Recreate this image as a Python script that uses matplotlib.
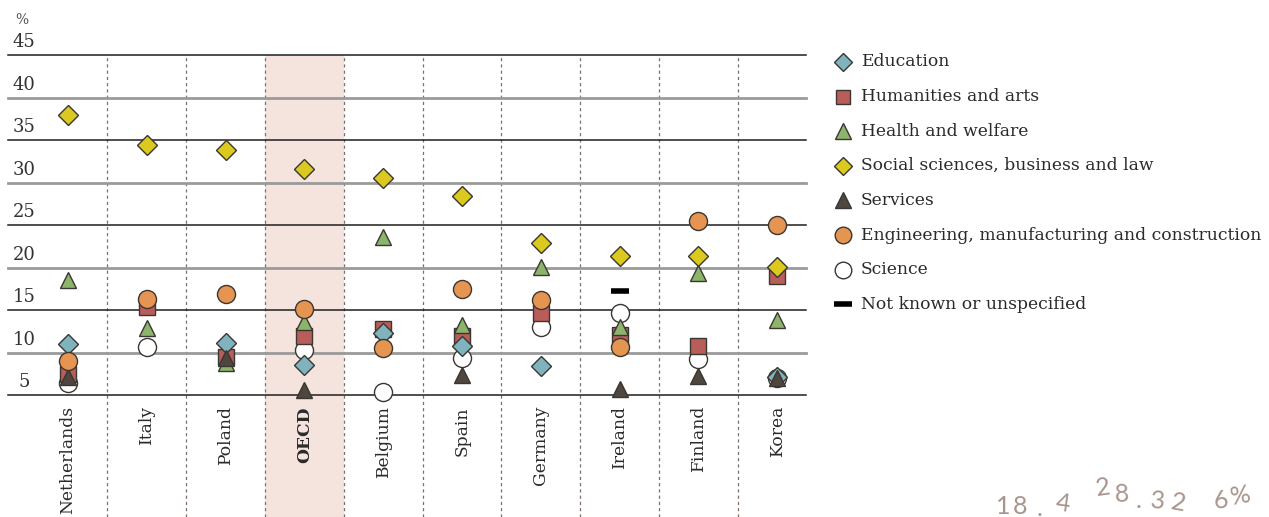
"""
Graduates by field of education, selected countries.
Dot chart with one column per country, shaded OECD column.
"""
import numpy as np
import matplotlib
matplotlib.use('Agg')
import matplotlib.pyplot as plt
from matplotlib.lines import Line2D

nan = np.nan

countries = ['Netherlands', 'Italy', 'Poland', 'OECD', 'Belgium',
             'Spain', 'Germany', 'Ireland', 'Finland', 'Korea']

education = [11.0, nan, 11.1, 8.5, 12.3, 10.8, 8.4, nan, nan, 7.1]
humanities = [7.5, 15.4, 9.5, 11.9, 12.8, 11.9, 14.7, 12.1, 10.8, 19.0]
health = [18.5, 12.9, 8.8, 13.6, 23.6, 13.2, 20.1, 13.0, 19.4, 13.8]
social = [37.9, 34.4, 33.8, 31.6, 30.5, 28.4, 22.9, 21.4, 21.4, 20.1]
services = [7.1, nan, 9.4, 5.6, nan, 7.4, nan, 5.7, 7.2, 7.0]
engineering = [9.0, 16.3, 16.9, 15.1, 10.5, 17.5, 16.2, 10.6, 25.5, 25.0]
science = [6.4, 10.6, nan, 10.3, 5.4, 9.4, 13.0, 14.6, 9.2, 7.0]
unknown = [nan, nan, nan, nan, nan, nan, nan, 17.2, nan, nan]

yticks = [5, 10, 15, 20, 25, 30, 35, 40, 45]

EDGE = '#3a3632'
FONT = 'DejaVu Serif'
TXT = '#2a2a2a'

# (label, values, marker, size, face colour, zorder)
series = [
    ('Education', education, 'D', 10, '#7fb4bf', 5),
    ('Humanities and arts', humanities, 's', 11.5, '#b95d5b', 3),
    ('Health and welfare', health, '^', 12, '#8db46b', 4),
    ('Social sciences, business and law', social, 'D', 10, '#dbc920', 8),
    ('Services', services, '^', 12, '#4e463f', 6),
    ('Engineering, manufacturing and construction', engineering, 'o', 13, '#e59452', 7),
    ('Science', science, 'o', 13, '#ffffff', 2),
]

W, H = 1269, 517
fig = plt.figure(figsize=(W / 100, H / 100), dpi=100)
ax = fig.add_axes([8 / W, (H - 395) / H, (806 - 8) / W, (395 - 55) / H])

x = np.arange(len(countries))
ax.set_xlim(-0.761, 9.365)
ax.set_ylim(5, 45)

# shaded OECD column and dashed column separators running down past the labels
ax.axvspan(2.5, 3.5, ymin=-0.36, ymax=1, color='#f4e4dd', lw=0, clip_on=False, zorder=0)
for b in np.arange(0.5, len(countries) - 1, 1):
    ax.axvline(b, ymin=-0.36, ymax=1, color='#7a706a', lw=0.9,
               dashes=(2.5, 2.5), clip_on=False, zorder=1)

# horizontal grid: alternating dark and grey rules
for v in yticks:
    if v % 10 == 5:
        ax.axhline(v, color='#1e1e1e', lw=1.1, zorder=1, clip_on=False)
    else:
        ax.axhline(v, color='#9a9a9a', lw=2.0, zorder=1, clip_on=False)
    ax.text(0.02, v + 0.45, str(v), transform=ax.get_yaxis_transform(),
            ha='center', va='bottom', fontsize=13, family=FONT, color='#333333')

ax.text(0.017, 1.102, '%', transform=ax.transAxes, ha='center', va='center',
        fontsize=10, family=FONT, color='#555555')

for label, vals, mk, ms, fc, z in series:
    ax.plot(x, vals, linestyle='none', marker=mk, markersize=ms,
            markerfacecolor=fc, markeredgecolor=EDGE, markeredgewidth=1.0,
            zorder=z, clip_on=False)
ax.plot(x, unknown, linestyle='none', marker='_', markersize=13,
        markeredgewidth=4, color='black', zorder=9, clip_on=False)

ax.set_xticks(x)
ax.set_xticklabels(countries, rotation=90, fontsize=12.3, family=FONT, color=TXT)
for t in ax.get_xticklabels():
    if t.get_text() == 'OECD':
        t.set_fontweight('bold')
ax.tick_params(axis='x', length=0, pad=8)
ax.set_yticks([])
for s in ax.spines.values():
    s.set_visible(False)

# legend drawn by hand in figure pixels
leg_y0, leg_dy = 62, 34.6
for i, (label, vals, mk, ms, fc, z) in enumerate(series):
    py = leg_y0 + i * leg_dy
    fig.add_artist(Line2D([843 / W], [1 - py / H], marker=mk, markersize=ms * 0.92,
                          markerfacecolor=fc, markeredgecolor=EDGE,
                          markeredgewidth=1.0, linestyle='none'))
    fig.text(861 / W, 1 - py / H, label, ha='left', va='center',
             fontsize=12.3, family=FONT, color=TXT)
py = leg_y0 + 7 * leg_dy
fig.add_artist(Line2D([843 / W], [1 - py / H], marker='_', markersize=13,
                      markeredgewidth=4, color='black', linestyle='none'))
fig.text(861 / W, 1 - py / H, 'Not known or unspecified', ha='left', va='center',
         fontsize=12.3, family=FONT, color=TXT)

# faint decorative numbers in the bottom-right corner
deco = [('2', 1103, 488, 8), ('8', 1122, 494, 2), ('.', 1139, 500, 0),
        ('3', 1158, 501, -4), ('2', 1178, 503, -10), ('6', 1221, 501, 8),
        ('%', 1240, 496, 10), ('1', 1003, 506, 0), ('8', 1020, 506, 0),
        ('.', 1040, 508, 0), ('4', 1063, 504, -8)]
for ch, px, py, rot in deco:
    fig.text(px / W, 1 - py / H, ch, ha='center', va='center', fontsize=18,
             family='Lato', color='#a8958c', rotation=rot)

fig.savefig('out.png', dpi=100)
